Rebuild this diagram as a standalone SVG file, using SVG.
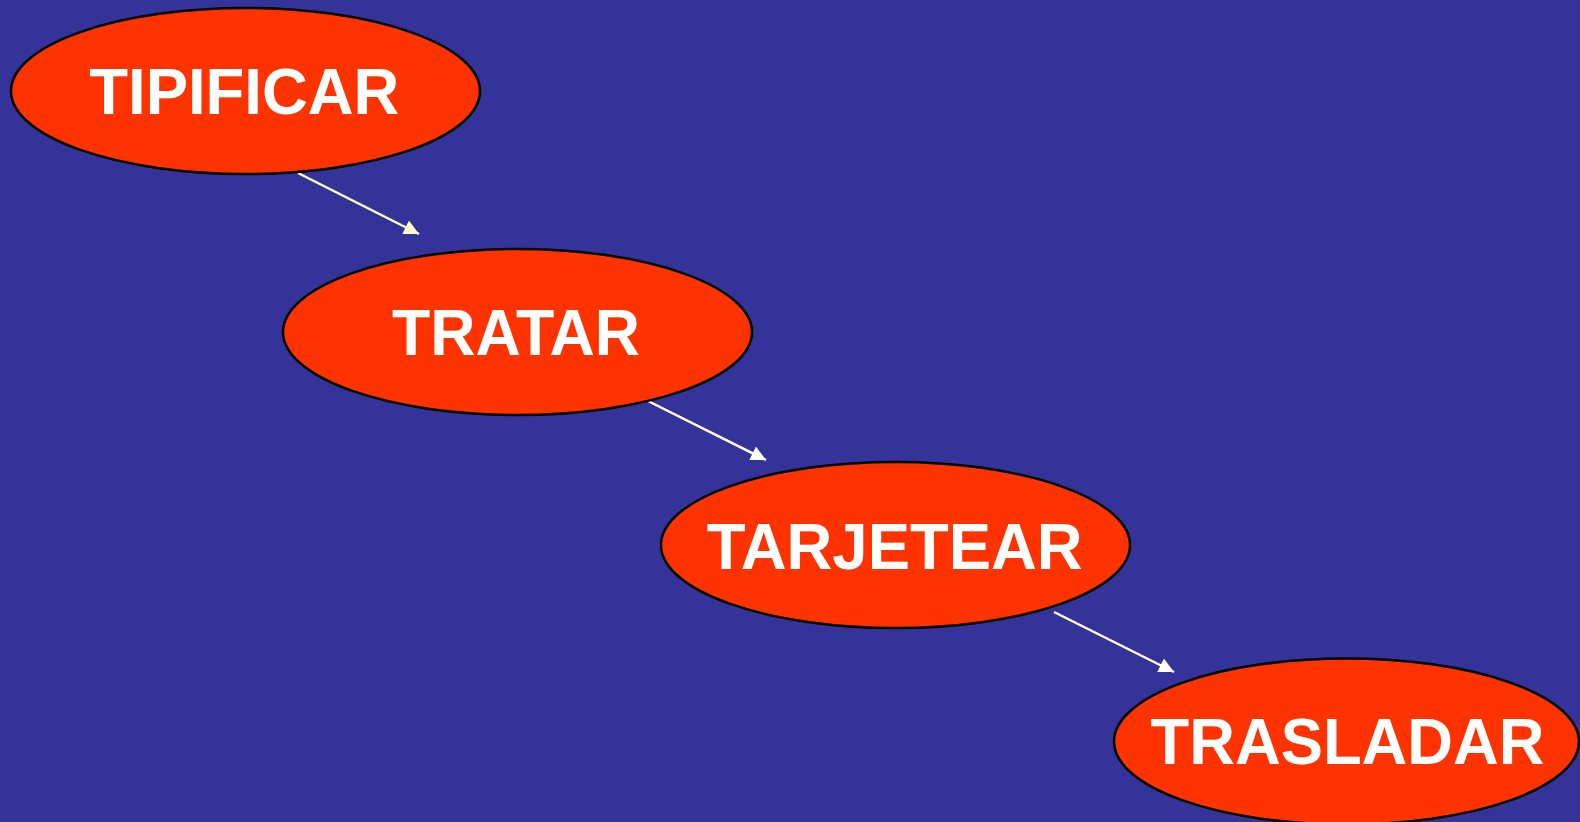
<svg xmlns="http://www.w3.org/2000/svg" width="1580" height="822" viewBox="0 0 1580 822">
  <style>
    .node ellipse { fill: #FF3300; stroke: #000000; stroke-width: 2.5; }
    .node text { fill: #FFFFFF; font-family: "Liberation Sans", Arial, sans-serif; font-weight: bold; font-size: 64px; text-anchor: middle; }
    .edge { stroke-width: 2.5; fill: none; }
  </style>
  <defs>
    <marker id="headCream" viewBox="0 0 10 10" refX="10" refY="5" markerWidth="6" markerHeight="6" markerUnits="strokeWidth" orient="auto">
      <path d="M0,0 L10,5 L0,10 Z" fill="#FFFFCC"/>
    </marker>
    <marker id="headWhite" viewBox="0 0 10 10" refX="10" refY="5" markerWidth="6" markerHeight="6" markerUnits="strokeWidth" orient="auto">
      <path d="M0,0 L10,5 L0,10 Z" fill="#FFFFFF"/>
    </marker>
  </defs>

  <rect x="0" y="0" width="1580" height="822" fill="#333399"/>

  <g id="connectors">
    <line class="edge" x1="298" y1="173" x2="419" y2="234" stroke="#FFFFCC" marker-end="url(#headCream)"/>
    <line class="edge" x1="646" y1="400" x2="766" y2="460" stroke="#FFFFFF" marker-end="url(#headWhite)"/>
    <line class="edge" x1="1054" y1="612" x2="1174" y2="672" stroke="#FFFFFF" marker-end="url(#headWhite)"/>
  </g>

  <g id="tipificar" class="node">
    <ellipse cx="245.5" cy="91" rx="234.5" ry="83"/>
    <text x="244.3" y="113.5" textLength="310" lengthAdjust="spacingAndGlyphs">TIPIFICAR</text>
  </g>

  <g id="tratar" class="node">
    <ellipse cx="517.5" cy="332" rx="234.5" ry="83"/>
    <text x="516" y="355" textLength="248" lengthAdjust="spacingAndGlyphs">TRATAR</text>
  </g>

  <g id="tarjetear" class="node">
    <ellipse cx="895.5" cy="545" rx="234.5" ry="83"/>
    <text x="894.7" y="568.5" textLength="376" lengthAdjust="spacingAndGlyphs">TARJETEAR</text>
  </g>

  <g id="trasladar" class="node">
    <ellipse cx="1346.5" cy="741.5" rx="232.5" ry="83"/>
    <text x="1347.5" y="763.5" textLength="394" lengthAdjust="spacingAndGlyphs">TRASLADAR</text>
  </g>
</svg>
